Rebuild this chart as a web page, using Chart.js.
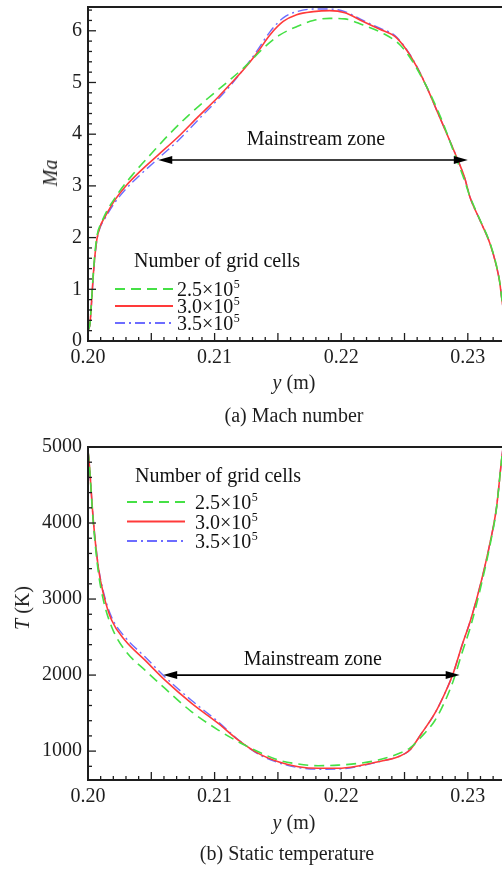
<!DOCTYPE html>
<html>
<head>
<meta charset="utf-8">
<title>Grid independence: Mach number and static temperature</title>
<script src="https://cdn.jsdelivr.net/npm/chart.js@4.4.1/dist/chart.umd.min.js"></script>
<style>
  html, body { margin: 0; padding: 0; background: #fff; }
  body {
    width: 502px; height: 869px; position: relative; overflow: hidden;
    font-family: "Liberation Serif", "Times New Roman", serif; color: #1e1e1e;
  }
  canvas { position: absolute; left: 0; }
  .lbl {
    position: absolute; font-size: 20px; line-height: 20px; white-space: nowrap;
    transform: translate(-50%, -50%);
  }
  .rot { transform: translate(-50%, -50%) rotate(-90deg); }
</style>
</head>
<body>
<canvas id="machChart" width="502" height="420" style="top:0;width:502px;height:420px;"></canvas>
<canvas id="tempChart" width="502" height="449" style="top:420px;width:502px;height:449px;"></canvas>

<div class="lbl rot" style="left:50px;top:173px;"><i>Ma</i></div>
<div class="lbl" style="left:294px;top:382px;"><i>y</i> (m)</div>
<div class="lbl" style="left:294px;top:415px;">(a) Mach number</div>

<div class="lbl rot" style="left:22px;top:608px;"><i>T</i> (K)</div>
<div class="lbl" style="left:294px;top:822px;"><i>y</i> (m)</div>
<div class="lbl" style="left:287px;top:853px;">(b) Static temperature</div>

<script>
// ---- data ----------------------------------------------------------------
// grid sizes (×10^5 cells)
const gridCounts = ['2.5', '3.0', '3.5'];

// tick labels
const xTickLabels = [0.20, 0.21, 0.22, 0.23];
const machTicks = [0, 1, 2, 3, 4, 5, 6];
const tempTicks = [1000, 2000, 3000, 4000, 5000];

// Mach number profiles, y (m) vs Ma
const machY25 = [0.2000, 0.20016, 0.20024, 0.20034, 0.20047, 0.20069, 0.20108, 0.20239, 0.20371, 0.20503,
                 0.20634, 0.20792, 0.20950, 0.21121, 0.21250, 0.21384, 0.21516, 0.21648, 0.21779, 0.21910,
                 0.22029, 0.22173, 0.22331, 0.22463, 0.22555, 0.22647, 0.22726, 0.22805, 0.22884, 0.22963,
                 0.23016, 0.23095, 0.23174, 0.23227, 0.23253, 0.23266, 0.23300];
const mach25 = [0.20, 0.34, 0.62, 1.02, 1.48, 2.00, 2.30, 2.86, 3.27, 3.63,
                3.98, 4.36, 4.70, 5.05, 5.33, 5.66, 5.92, 6.08, 6.20, 6.24,
                6.23, 6.11, 5.95, 5.73, 5.44, 5.05, 4.66, 4.21, 3.69, 3.18,
                2.80, 2.35, 1.90, 1.45, 1.13, 0.87, 0.30];

const machY30 = [0.2000, 0.20016, 0.20024, 0.20034, 0.20047, 0.20069, 0.20095, 0.20134, 0.20213, 0.20292,
                 0.20424, 0.20555, 0.20713, 0.20871, 0.21029, 0.21121, 0.21226, 0.21332, 0.21437, 0.21542,
                 0.21648, 0.21779, 0.21910, 0.22029, 0.22173, 0.22305, 0.22424, 0.22516, 0.22595, 0.22674,
                 0.22753, 0.22832, 0.22911, 0.22976, 0.23016, 0.23095, 0.23174, 0.23227, 0.23253, 0.23266,
                 0.23300];
const mach30 = [0.20, 0.34, 0.60, 0.99, 1.44, 1.95, 2.21, 2.40, 2.73, 2.98,
                3.31, 3.60, 3.95, 4.34, 4.72, 4.96, 5.24, 5.56, 5.92, 6.18,
                6.31, 6.37, 6.39, 6.35, 6.18, 6.03, 5.89, 5.63, 5.31, 4.92,
                4.47, 4.02, 3.56, 3.15, 2.79, 2.34, 1.89, 1.44, 1.12, 0.86,
                0.30];

const machY35 = machY30;
const mach35 = [0.20, 0.33, 0.58, 0.97, 1.42, 1.93, 2.19, 2.37, 2.68, 2.92,
                3.24, 3.53, 3.88, 4.28, 4.68, 4.93, 5.25, 5.60, 5.98, 6.25,
                6.37, 6.42, 6.42, 6.37, 6.20, 6.05, 5.91, 5.64, 5.32, 4.92,
                4.47, 4.02, 3.56, 3.15, 2.79, 2.34, 1.89, 1.44, 1.12, 0.86,
                0.30];

// static temperature profiles, y (m) vs T (K)
const tempY = [0.2000, 0.20008, 0.20042, 0.20081, 0.20121, 0.20187, 0.20292, 0.20450, 0.20608, 0.20819,
               0.21029, 0.21187, 0.21345, 0.21503, 0.21660, 0.21818, 0.21976, 0.22134, 0.22292, 0.22450,
               0.22542, 0.22634, 0.22739, 0.22818, 0.22884, 0.22950, 0.23029, 0.23108, 0.23174, 0.23227,
               0.23266, 0.23300];
const temp25 = [4950, 4822, 4000, 3360, 2990, 2633, 2327, 2065, 1824, 1517,
                1277, 1123, 992, 883, 830, 808, 816, 838, 882, 965,
                1040, 1190, 1400, 1650, 1920, 2270, 2680, 3200, 3700, 4200,
                4822, 5300];
const temp30 = [4950, 4822, 4034, 3421, 3072, 2721, 2458, 2196, 1933, 1627,
                1364, 1145, 970, 860, 795, 774, 774, 804, 860, 926,
                1014, 1232, 1495, 1758, 2021, 2370, 2762, 3246, 3728, 4209,
                4822, 5300];
const temp35 = [4950, 4822, 4040, 3440, 3100, 2760, 2500, 2240, 1975, 1665,
                1385, 1150, 962, 848, 783, 762, 764, 798, 858, 926,
                1014, 1232, 1495, 1758, 2021, 2370, 2762, 3246, 3728, 4209,
                4822, 5300];

// mainstream-zone markers: [y start, y end, level]
const machZone = [0.20555, 0.2300, 3.5];
const tempZone = [0.20594, 0.22936, 2000];

// ---- styling -------------------------------------------------------------
const FONT = '"Liberation Serif", "Times New Roman", serif';
const INK = '#1e1e1e';
const seriesStyles = [
  { color: '#45e045', dash: [10, 6], width: 1.6 },
  { color: '#ff3a3a', dash: [], width: 1.6 },
  { color: '#6c6cff', dash: [10, 4, 2, 4], width: 1.4 }
];

Chart.defaults.font.family = FONT;
Chart.defaults.font.size = 20;
Chart.defaults.color = INK;

function points(xs, ys) { return xs.map((x, i) => ({ x: x, y: ys[i] })); }

function makeDatasets(pairs) {
  return pairs.map((p, i) => ({
    label: gridCounts[i] + '×10^5',
    data: points(p[0], p[1]),
    borderColor: seriesStyles[i].color,
    borderDash: seriesStyles[i].dash,
    borderWidth: seriesStyles[i].width,
    pointRadius: 0,
    fill: false,
    cubicInterpolationMode: 'monotone'
  }));
}

// frame, inward ticks, mainstream-zone arrow and the legend block
const decorations = {
  id: 'decorations',
  afterDatasetsDraw(chart, args, o) {
    const { ctx, chartArea: a } = chart;
    const xs = chart.scales.x, ys = chart.scales.y;
    const seg = (x0, y0, x1, y1) => { ctx.beginPath(); ctx.moveTo(x0, y0); ctx.lineTo(x1, y1); ctx.stroke(); };
    ctx.save();

    // frame (left, top, bottom)
    ctx.strokeStyle = INK;
    ctx.lineWidth = 2;
    ctx.beginPath();
    ctx.moveTo(a.right + 4, a.top);
    ctx.lineTo(a.left, a.top);
    ctx.lineTo(a.left, a.bottom);
    ctx.lineTo(a.right + 4, a.bottom);
    ctx.stroke();

    // x ticks: minor every 0.001, major every 0.005
    ctx.lineWidth = 1.3;
    for (let k = 1; ; k++) {
      const v = 0.2 + k * 0.001;
      if (v > xs.max + 1e-9) break;
      const px = xs.getPixelForValue(v);
      seg(px, a.bottom, px, a.bottom - (k % 5 === 0 ? 8 : 4));
    }
    // y ticks
    const kMin = Math.ceil(ys.min / o.yMinor - 1e-9), kMax = Math.floor(ys.max / o.yMinor + 1e-9);
    for (let k = kMin; k <= kMax; k++) {
      const py = ys.getPixelForValue(k * o.yMinor);
      seg(a.left, py, a.left + (k % o.yRatio === 0 ? 8 : 4), py);
    }

    // mainstream zone arrow
    const ay = ys.getPixelForValue(o.zone[2]);
    const ax0 = xs.getPixelForValue(o.zone[0]);
    const ax1 = xs.getPixelForValue(o.zone[1]);
    ctx.strokeStyle = '#000';
    ctx.fillStyle = '#000';
    ctx.lineWidth = 1.6;
    seg(ax0 + 10, ay, ax1 - 10, ay);
    const head = (tip, dir) => {
      ctx.beginPath();
      ctx.moveTo(tip, ay);
      ctx.lineTo(tip - dir * 14, ay - 4);
      ctx.lineTo(tip - dir * 14, ay + 4);
      ctx.closePath();
      ctx.fill();
    };
    head(ax0, -1);
    head(ax1, 1);
    ctx.font = '20px ' + FONT;
    ctx.fillStyle = '#111';
    ctx.textAlign = 'center';
    ctx.textBaseline = 'middle';
    ctx.fillText('Mainstream zone', xs.getPixelForValue(o.zoneText[0]), ys.getPixelForValue(o.zoneText[1]));

    // legend
    const L = o.legend;
    ctx.textAlign = 'left';
    ctx.textBaseline = 'alphabetic';
    ctx.fillText('Number of grid cells', L.titleX, L.titleY + 7);
    chart.data.datasets.forEach((ds, i) => {
      const ry = L.rowY + i * L.rowH;
      ctx.strokeStyle = ds.borderColor;
      ctx.lineWidth = ds.borderWidth + 0.4;
      ctx.setLineDash(ds.borderDash);
      seg(L.lineX0, ry, L.lineX1, ry);
      ctx.setLineDash([]);
      const base = gridCounts[i] + '×10';
      ctx.font = '20px ' + FONT;
      ctx.fillStyle = '#111';
      ctx.fillText(base, L.textX, ry + 7);
      const w = ctx.measureText(base).width;
      ctx.font = '12px ' + FONT;
      ctx.fillText('5', L.textX + w + 0.5, ry - 1);
      ctx.font = '20px ' + FONT;
    });
    ctx.restore();
  }
};

function xScale(height) {
  return {
    type: 'linear', min: 0.2, max: 0.2327,
    afterBuildTicks: s => { s.ticks = xTickLabels.map(v => ({ value: v })); },
    afterFit: s => { s.height = height; s.paddingLeft = 0; s.paddingRight = 0; },
    ticks: { callback: v => Number(v).toFixed(2), padding: 5, maxRotation: 0, autoSkip: false,
             font: { family: FONT, size: 20 }, color: INK },
    grid: { display: false, drawTicks: false },
    border: { display: false }
  };
}

function yScale(min, max, labels) {
  return {
    type: 'linear', min: min, max: max,
    afterBuildTicks: s => { s.ticks = labels.map(v => ({ value: v })); },
    afterFit: s => { s.width = 88; s.paddingTop = 0; s.paddingBottom = 0; },
    ticks: { callback: v => String(v), padding: 6, font: { family: FONT, size: 20 }, color: INK },
    grid: { display: false, drawTicks: false },
    border: { display: false }
  };
}

function baseOptions(padTop, xHeight, yAxis, deco) {
  return {
    responsive: false,
    animation: false,
    events: [],
    layout: { padding: { top: padTop, left: 0, right: 0, bottom: 0 }, autoPadding: false },
    scales: { x: xScale(xHeight), y: yAxis },
    plugins: { legend: { display: false }, tooltip: { enabled: false }, decorations: deco }
  };
}

new Chart(document.getElementById('machChart'), {
  type: 'line',
  data: { datasets: makeDatasets([[machY25, mach25], [machY30, mach30], [machY35, mach35]]) },
  options: baseOptions(7, 79, yScale(0, 6.46, machTicks), {
    yMinor: 0.2, yRatio: 5,
    zone: machZone, zoneText: [0.2180, 3.89],
    legend: { titleX: 134, titleY: 260, rowY: 289, rowH: 17, lineX0: 115, lineX1: 173, textX: 177 }
  }),
  plugins: [decorations]
});

new Chart(document.getElementById('tempChart'), {
  type: 'line',
  data: { datasets: makeDatasets([[tempY, temp25], [tempY, temp30], [tempY, temp35]]) },
  options: baseOptions(27, 89, yScale(620, 5000, tempTicks), {
    yMinor: 200, yRatio: 5,
    zone: tempZone, zoneText: [0.21776, 2205],
    legend: { titleX: 135, titleY: 55, rowY: 82, rowH: 19.5, lineX0: 127, lineX1: 185, textX: 195 }
  }),
  plugins: [decorations]
});
</script>
</body>
</html>
